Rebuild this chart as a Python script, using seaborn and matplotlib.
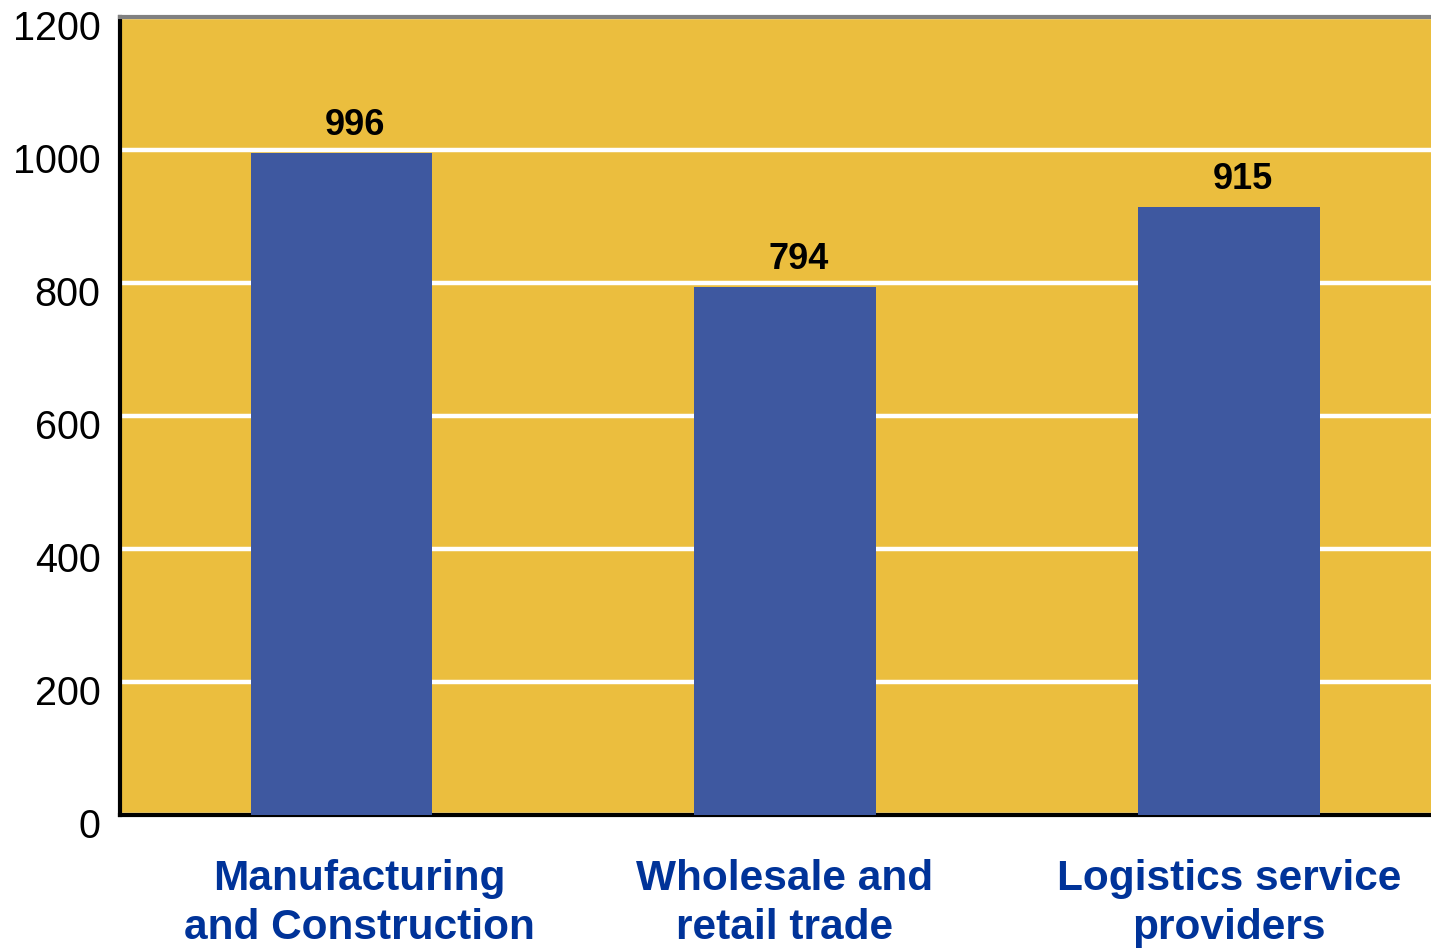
import matplotlib
matplotlib.use("Agg")
import matplotlib.pyplot as plt
import matplotlib.transforms as mtransforms
import seaborn as sns
import pandas as pd

categories = ["Manufacturing\nand Construction", "Wholesale and\nretail trade", "Logistics service\nproviders"]
values = [996, 794, 915]
yticks = [0, 200, 400, 600, 800, 1000, 1200]

sns.set_style("white")
plt.rcParams['font.family'] = ['Liberation Sans', 'DejaVu Sans']

df = pd.DataFrame({"cat": categories, "val": values})

fig = plt.figure(figsize=(14.31, 9.48), dpi=100)
ax = fig.add_axes([120/1431, 1 - 815/948, 1 - 120/1431, (815-17)/948])
ax.set_facecolor("#EBBE3E")

sns.barplot(data=df, x="cat", y="val", color="#3E58A0", saturation=1, width=0.408,
            linewidth=0, edgecolor="none", ax=ax, zorder=3)

ax.set_ylim(0, 1200)
ax.set_xlim(-0.498, 2.455)
ax.set_yticks(yticks)
ax.set_yticklabels([str(t) for t in yticks], fontsize=28.5, color="black")
ax.yaxis.grid(True, color="white", linewidth=3.2, zorder=1)
ax.set_axisbelow(True)
ax.tick_params(axis="y", length=0, pad=14)
ax.tick_params(axis="x", length=0, pad=32)
for lab in ax.get_yticklabels():
    lab.set_transform(lab.get_transform() + mtransforms.ScaledTranslation(0, -8/100, fig.dpi_scale_trans))
xshift = [18, 0, 0]
for lab, dx in zip(ax.get_xticklabels(), xshift):
    lab.set_fontsize(30.5)
    lab.set_fontweight("bold")
    lab.set_color("#003399")
    lab.set_linespacing(1.28)
    lab.set_transform(lab.get_transform() + mtransforms.ScaledTranslation(dx/100, 0, fig.dpi_scale_trans))

ax.set_xlabel("")
ax.set_ylabel("")

for i, v in enumerate(values):
    ax.annotate(str(v), xy=(i, v), xytext=(10, 7), textcoords="offset points",
                ha="center", va="bottom", fontsize=26, fontweight="bold", color="black")

for s in ["left", "bottom"]:
    ax.spines[s].set_color("black")
    ax.spines[s].set_linewidth(3)
ax.spines["top"].set_color("#808080")
ax.spines["top"].set_linewidth(3)
ax.spines["right"].set_visible(False)

fig.savefig("out.png", dpi=100)
